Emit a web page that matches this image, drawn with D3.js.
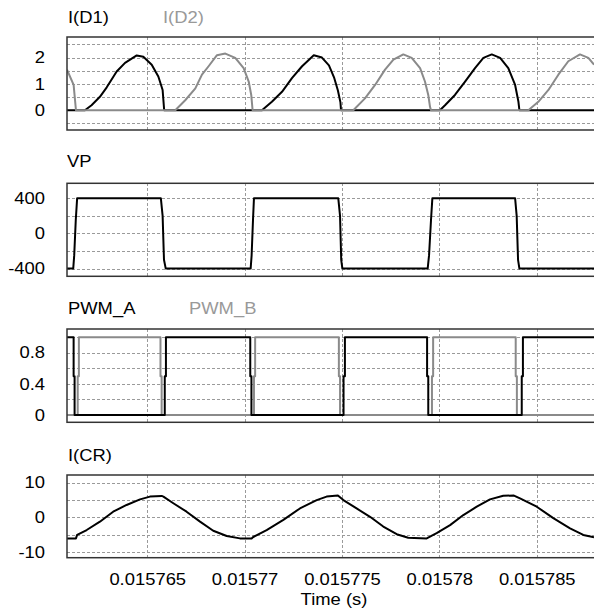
<!DOCTYPE html>
<html>
<head>
<meta charset="utf-8">
<script src="https://cdn.jsdelivr.net/npm/d3@7"></script>
<style>
  body { margin: 0; background: #fff; }
  svg { display: block; background: #fff; font-family: 'Liberation Sans', Arial, sans-serif; }
  .grid line { stroke: #9a9a9a; stroke-width: 1; stroke-dasharray: 3,2; shape-rendering: crispEdges; }
  .grid .domain { display: none; }
  .frame { fill: none; stroke: #333; stroke-width: 1.5; }
  .series { fill: none; stroke-width: 2; stroke-linejoin: round; }
</style>
</head>
<body>
<div class="container"><svg></svg></div>
<script>
// data, time in microseconds
const timeRange = [15760.88, 15787.94]
const xTicks = [15765, 15770, 15775, 15780, 15785]
const xTickLabels = ['0.015765', '0.01577', '0.015775', '0.01578', '0.015785']

const timeD1 = [15760.88, 15761.80, 15762.14, 15762.57, 15762.92, 15763.43, 15763.86, 15764.46, 15764.80, 15765.23, 15765.57, 15765.79, 15765.87,
  15770.89, 15771.40, 15771.92, 15772.43, 15772.95, 15773.55, 15773.97, 15774.33, 15774.59, 15774.79, 15774.92, 15774.95,
  15780.03, 15780.29, 15780.80, 15781.32, 15781.83, 15782.26, 15782.69, 15783.12, 15783.54, 15783.89, 15784.06, 15784.11, 15787.94]
const iD1 = [0, 0, 0.19, 0.51, 0.87, 1.47, 1.8, 2.08, 2.03, 1.73, 1.28, 0.77, 0,
  0, 0.32, 0.7, 1.22, 1.67, 2.09, 2.0, 1.7, 1.25, 0.75, 0.3, 0,
  0, 0.19, 0.58, 1.09, 1.6, 1.99, 2.12, 1.99, 1.6, 0.96, 0.32, 0, 0]

const timeD2 = [15760.88, 15761.22, 15761.34,
  15766.44, 15766.95, 15767.47, 15767.81, 15768.15, 15768.58, 15769.01, 15769.52, 15769.95, 15770.21, 15770.34, 15770.41,
  15775.58, 15776.18, 15776.70, 15777.21, 15777.64, 15778.15, 15778.58, 15779.01, 15779.26, 15779.43, 15779.52, 15779.57,
  15784.57, 15785.08, 15785.60, 15786.11, 15786.62, 15787.22, 15787.65, 15787.94]
const iD2 = [1.54, 0.96, 0,
  0, 0.38, 0.83, 1.35, 1.67, 2.09, 2.15, 1.99, 1.6, 1.09, 0.58, 0,
  0, 0.45, 0.96, 1.54, 1.92, 2.12, 1.99, 1.6, 1.09, 0.58, 0.13, 0,
  0, 0.32, 0.77, 1.35, 1.86, 2.12, 1.99, 1.73]

const timeVP = [15760.88, 15761.20, 15761.25, 15761.33, 15761.40, 15765.70, 15765.79, 15765.86, 15765.95,
  15770.31, 15770.36, 15770.43, 15770.48, 15774.81, 15774.90, 15774.96, 15775.02,
  15779.40, 15779.47, 15779.57, 15779.64, 15783.89, 15783.97, 15784.04, 15784.11, 15787.94]
const vp = [-400, -400, -250, 150, 400, 400, 200, -300, -400,
  -400, -250, 150, 400, 400, 200, -300, -400,
  -400, -250, 150, 400, 400, 200, -300, -400, -400]

const timePwmA = [15760.88, 15761.22, 15761.27, 15765.90, 15765.96, 15770.29, 15770.35, 15775.08, 15775.15, 15779.37, 15779.43, 15784.23, 15784.29, 15787.94]
const pwmA = [1, 0.5, 0, 0.5, 1, 0.5, 0, 0.5, 1, 0.5, 0, 0.5, 1, 1]
const timePwmB = [15760.88, 15761.43, 15761.49, 15765.68, 15765.74, 15770.48, 15770.54, 15774.84, 15774.90, 15779.62, 15779.68, 15783.92, 15783.98, 15787.94]
const pwmB = [0, 0.5, 1, 0.5, 0, 0.5, 1, 0.5, 0, 0.5, 1, 0.5, 0, 0]

const timeCR = [15760.88, 15761.34, 15761.40, 15761.89, 15762.57, 15763.25, 15763.94, 15764.63, 15765.14, 15765.74, 15765.83,
  15766.34, 15767.02, 15767.71, 15768.39, 15769.08, 15769.76, 15770.36, 15770.44, 15771.13, 15771.99, 15772.84, 15773.70,
  15774.21, 15774.79, 15775.07, 15775.75, 15776.44, 15777.12, 15777.81, 15778.40, 15779.35, 15779.86, 15780.55, 15781.23,
  15781.92, 15782.60, 15783.28, 15783.83, 15784.14, 15785.00, 15785.85, 15786.71, 15787.39, 15787.94]
const iCR = [-6.0, -6.0, -5.0, -3.6, -1.2, 1.67, 3.6, 5.2, 6.0, 6.2, 6.0,
  4.1, 1.67, -1.2, -3.8, -5.3, -6.0, -6.0, -5.6, -3.6, -0.7, 2.6, 5.0,
  6.0, 6.3, 5.0, 2.6, 0.2, -2.6, -4.8, -5.8, -6.0, -4.5, -2.2, 0.7,
  3.1, 5.2, 6.27, 6.3, 5.5, 3.1, -0.2, -3.1, -5.0, -5.7]

// dimensions
const width = 594
const height = 613
const margin = { left: 67 }
const fontSize = 16
const stretch = 1.15
const black = '#000'
const gray = '#8a8a8a'
const grayText = '#999'

const $svg = d3.select('svg').attr('width', width).attr('height', height)
const $defs = $svg.append('defs')

const scaleX = d3.scaleLinear().domain(timeRange).range([margin.left, width])

const panels = [
  { top: 37, bottom: 130, domain: [-0.75, 2.78], ticks: [0, 1, 2], grid: [-0.5, 0, 0.5, 1, 1.5, 2, 2.5], labelY: 23,
    labels: [{ text: 'I(D1)', x: 68, color: black }, { text: 'I(D2)', x: 163, color: grayText }],
    series: [{ t: timeD1, v: iD1, color: black }, { t: timeD2, v: iD2, color: gray }] },
  { top: 183.3, bottom: 276.3, domain: [-488, 571], ticks: [-400, 0, 400], grid: [-400, -200, 0, 200, 400], labelY: 167,
    labels: [{ text: 'VP', x: 67, color: black }],
    series: [{ t: timeVP, v: vp, color: black }] },
  { top: 329, bottom: 422.3, domain: [-0.094, 1.107], ticks: [0, 0.4, 0.8], grid: [0, 0.2, 0.4, 0.6, 0.8, 1], labelY: 314,
    labels: [{ text: 'PWM_A', x: 68, color: black }, { text: 'PWM_B', x: 189, color: grayText }],
    series: [{ t: timePwmB, v: pwmB, color: gray, step: true }, { t: timePwmA, v: pwmA, color: black, step: true }] },
  { top: 475, bottom: 557.7, domain: [-11.55, 12.21], ticks: [-10, 0, 10], grid: [-10, -5, 0, 5, 10], labelY: 461,
    labels: [{ text: 'I(CR)', x: 68, color: black }],
    series: [{ t: timeCR, v: iCR, color: black }] }
]

function stretchText(sel){
  // the reference type is a bit wider than it is tall
  sel.attr('transform', function(){
    const x = +d3.select(this).attr('x') || 0
    return `translate(${x * (1 - stretch)}, 0) scale(${stretch}, 1)`
  })
}

panels.forEach((p, i) => {
  const scaleY = d3.scaleLinear().domain(p.domain).range([p.bottom, p.top])
  const h = p.bottom - p.top
  const $g = $svg.append('g').attr('class', 'panel')

  $defs.append('clipPath').attr('id', `clip${i}`)
    .append('rect')
    .attr('x', margin.left).attr('y', p.top)
    .attr('width', width - margin.left).attr('height', h)

  // grid
  $g.append('g').attr('class', 'grid')
    .attr('transform', `translate(0, ${p.bottom})`)
    .call(d3.axisBottom(scaleX).tickValues(xTicks).tickSize(-h).tickFormat(''))
  $g.append('g').attr('class', 'grid')
    .attr('transform', `translate(${margin.left}, 0)`)
    .call(d3.axisLeft(scaleY).tickValues(p.grid).tickSize(-(width - margin.left)).tickFormat(''))

  // series
  p.series.forEach(s => {
    const line = d3.line()
      .x(d => scaleX(d[0]))
      .y(d => scaleY(d[1]))
      .curve(s.step ? d3.curveStepAfter : d3.curveLinear)
    $g.append('path')
      .attr('class', 'series')
      .attr('clip-path', `url(#clip${i})`)
      .attr('stroke', s.color)
      .attr('d', line(d3.zip(s.t, s.v)))
  })

  // frame
  $g.append('rect')
    .attr('class', 'frame')
    .attr('x', margin.left).attr('y', p.top)
    .attr('width', width - margin.left + 4).attr('height', h)

  // y labels, plain hyphen minus like the original
  const $yAxis = $g.append('g')
    .attr('transform', `translate(${margin.left}, 0)`)
    .call(d3.axisLeft(scaleY).tickValues(p.ticks).tickSize(0).tickPadding(22)
      .tickFormat(d => `${d}`))
  $yAxis.select('.domain').remove()
  $yAxis.selectAll('text')
    .attr('font-size', fontSize)
    .attr('font-family', null)
    .attr('fill', '#000')
    .call(stretchText)

  // header labels
  $g.selectAll('.header')
    .data(p.labels)
    .enter()
    .append('text')
    .attr('class', 'header')
    .attr('x', d => d.x)
    .attr('y', p.labelY)
    .attr('fill', d => d.color)
    .attr('font-size', fontSize)
    .text(d => d.text)
    .call(stretchText)

  // time axis under the last panel
  if (i === panels.length - 1){
    const $xAxis = $g.append('g')
      .attr('transform', `translate(0, ${p.bottom})`)
      .call(d3.axisBottom(scaleX).tickValues(xTicks).tickSize(0).tickPadding(16)
        .tickFormat((d, j) => xTickLabels[j]))
    $xAxis.select('.domain').remove()
    $xAxis.selectAll('text')
      .attr('font-size', fontSize)
      .attr('font-family', null)
      .attr('fill', '#000')
      .call(stretchText)

    $g.append('text')
      .attr('x', 334)
      .attr('y', 605)
      .attr('text-anchor', 'middle')
      .attr('font-size', fontSize)
      .text('Time (s)')
      .call(stretchText)
  }
})
</script>
</body>
</html>
